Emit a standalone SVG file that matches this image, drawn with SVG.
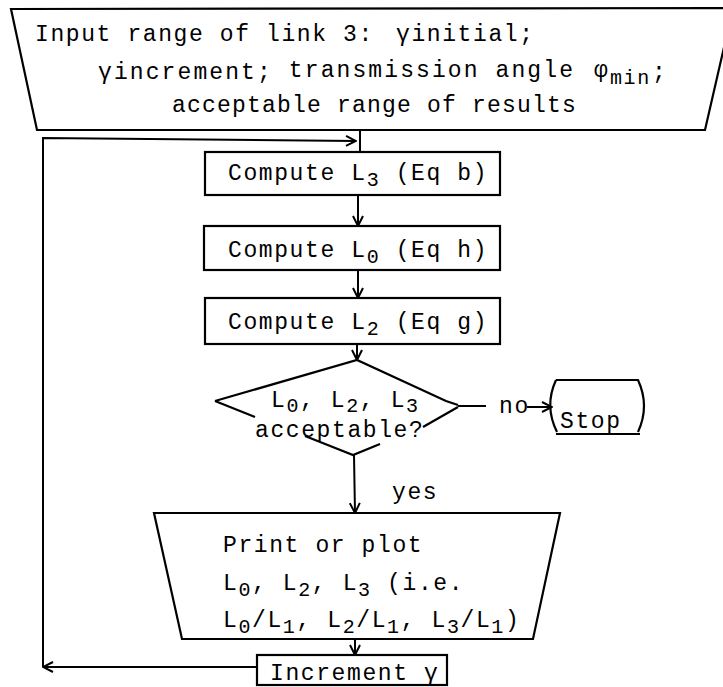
<svg xmlns="http://www.w3.org/2000/svg" width="723" height="687" viewBox="0 0 723 687">
<defs>
<marker id="ah" viewBox="0 0 12 12" refX="11" refY="6" markerWidth="12" markerHeight="12" markerUnits="userSpaceOnUse" orient="auto">
<path d="M1,1 L11,6 L1,11" fill="none" stroke="#000" stroke-width="2"/>
</marker>
</defs>
<style>
.s{fill:none;stroke:#000;stroke-width:2.2;stroke-linejoin:miter}
.t{font-family:"Liberation Mono","DejaVu Sans Mono",monospace;font-size:23px;letter-spacing:1.6px;fill:#000}
.sub{font-size:20px;letter-spacing:1.6px}
.c{fill:none;stroke:#000;stroke-width:2}
</style>
<rect width="723" height="687" fill="#fff"/>

<g id="input">
<path class="s" d="M11,9 L733,8 L705,130 L37,130 Z" stroke-width="3"/>
<text class="t" x="35" y="41">Input range of link 3:<tspan x="396">γinitial;</tspan></text>
<text class="t" x="98" y="79" style="letter-spacing:2.1px">γincrement;<tspan dy="-2"> transmission angle</tspan><tspan x="594">φ</tspan><tspan class="sub" x="610" dy="7">min</tspan><tspan x="652" dy="-5">;</tspan></text>
<text class="t" x="172" y="112" style="letter-spacing:1.2px">acceptable range of results</text>
</g>

<g id="computeL3">
<rect class="s" x="205" y="152" width="295" height="43"/>
<text class="t" x="228" y="180">Compute L<tspan class="sub" dy="6">3</tspan><tspan dy="-6"> (Eq b)</tspan></text>
</g>

<g id="computeL0">
<rect class="s" x="204" y="226" width="296" height="44"/>
<text class="t" x="228" y="257">Compute L<tspan class="sub" dy="6">0</tspan><tspan dy="-6"> (Eq h)</tspan></text>
</g>

<g id="computeL2">
<rect class="s" x="205" y="298" width="295" height="46"/>
<text class="t" x="228" y="329">Compute L<tspan class="sub" dy="6">2</tspan><tspan dy="-6"> (Eq g)</tspan></text>
</g>

<g id="decision">
<path class="s" d="M215,401 L357,360 L446,401 L458,405"/>
<path class="s" d="M215,401 L255,417 M305,436 L353,455 L380,444 M423,427 L458,407"/>
<text class="t" x="271" y="407">L<tspan class="sub" dy="5">0</tspan><tspan dy="-5">, L</tspan><tspan class="sub" dy="5">2</tspan><tspan dy="-5">, L</tspan><tspan class="sub" dy="5">3</tspan></text>
<text class="t" x="255" y="437">acceptable?</text>
</g>

<g id="stop">
<path class="s" d="M556,380 L638,380 Q650,406 638,432 M556,380 Q544,406 557,432 M556,434 L640,434"/>
<text class="t" x="560" y="428">Stop</text>
</g>

<g id="print">
<path class="s" d="M154,513 L560,513 L533,639 L182,639 Z"/>
<text class="t" x="223" y="552">Print or plot</text>
<text class="t" x="223" y="590">L<tspan class="sub" dy="6">0</tspan><tspan dy="-6">, L</tspan><tspan class="sub" dy="6">2</tspan><tspan dy="-6">, L</tspan><tspan class="sub" dy="6">3</tspan><tspan dy="-6"> (i.e.</tspan></text>
<text class="t" x="223" y="627">L<tspan class="sub" dy="6">0</tspan><tspan dy="-6">/L</tspan><tspan class="sub" dy="6">1</tspan><tspan dy="-6">, L</tspan><tspan class="sub" dy="6">2</tspan><tspan dy="-6">/L</tspan><tspan class="sub" dy="6">1</tspan><tspan dy="-6">, L</tspan><tspan class="sub" dy="6">3</tspan><tspan dy="-6">/L</tspan><tspan class="sub" dy="6">1</tspan><tspan dy="-6">)</tspan></text>
</g>

<g id="increment">
<rect class="s" x="257" y="655" width="190" height="30"/>
<text class="t" x="270" y="680">Increment γ</text>
</g>

<g id="connectors">
<line class="c" x1="360" y1="130" x2="360" y2="152"/>
<line class="c" x1="358" y1="195" x2="358" y2="226" marker-end="url(#ah)"/>
<line class="c" x1="358" y1="270" x2="358" y2="298" marker-end="url(#ah)"/>
<line class="c" x1="357" y1="344" x2="357" y2="360" marker-end="url(#ah)"/>
<line class="c" x1="458" y1="406" x2="486" y2="406"/>
<line class="c" x1="527" y1="407" x2="552" y2="407" marker-end="url(#ah)"/>
<line class="c" x1="354" y1="455" x2="355" y2="513" marker-end="url(#ah)"/>
<text class="t" x="392" y="499">yes</text>
<text class="t" x="499" y="413">no</text>
<line class="c" x1="355" y1="639" x2="355" y2="655" marker-end="url(#ah)"/>
<line class="c" x1="257" y1="667" x2="43" y2="667" marker-end="url(#ah)"/>
<polyline class="c" points="43,667 43,138 356,141" marker-end="url(#ah)"/>
</g>
</svg>
